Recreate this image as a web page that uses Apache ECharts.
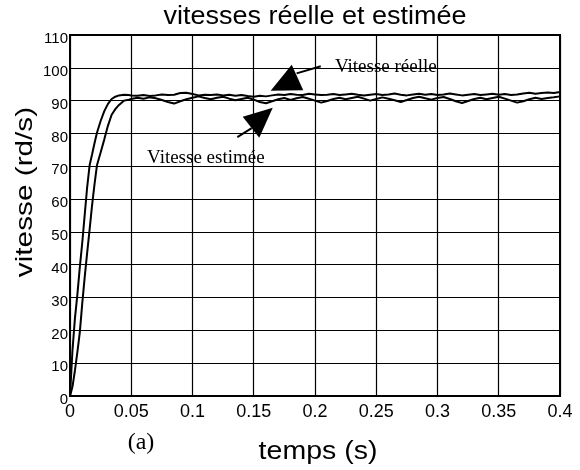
<!DOCTYPE html>
<html>
<head>
<meta charset="utf-8">
<script src="https://cdn.jsdelivr.net/npm/echarts@6/dist/echarts.min.js"></script>
<style>
html, body { margin: 0; padding: 0; background: #fff; }
#main { width: 580px; height: 470px; }
</style>
</head>
<body>
<div id="main"></div>
<script>
var myChart = echarts.init(document.getElementById('main'));

// temps (s)
var temps = [
    0, 0.002, 0.004, 0.006, 0.008, 0.010, 0.012, 0.014, 0.016, 0.018,
    0.020, 0.022, 0.025, 0.028, 0.031, 0.034, 0.037, 0.040, 0.044, 0.048,
    0.050, 0.055, 0.060, 0.065, 0.070, 0.075, 0.080, 0.085, 0.090, 0.095,
    0.100, 0.105, 0.110, 0.115, 0.120, 0.125, 0.130, 0.135, 0.140, 0.145,
    0.150, 0.155, 0.160, 0.165, 0.170, 0.175, 0.180, 0.185, 0.190, 0.195,
    0.200, 0.205, 0.210, 0.215, 0.220, 0.225, 0.230, 0.235, 0.240, 0.245,
    0.250, 0.255, 0.260, 0.265, 0.270, 0.275, 0.280, 0.285, 0.290, 0.295,
    0.300, 0.305, 0.310, 0.315, 0.320, 0.325, 0.330, 0.335, 0.340, 0.345,
    0.350, 0.355, 0.360, 0.365, 0.370, 0.375, 0.380, 0.385, 0.390, 0.395,
    0.400
];

// vitesse réelle (rd/s)
var vitesseReelle = [
    0, 13.8, 23.6, 30.8, 39.2, 46.7, 55.2, 63.6, 70.3, 73.6,
    77.0, 80.2, 83.8, 86.8, 89.0, 90.5, 91.2, 91.6, 91.8, 91.7,
    91.6, 91.5, 91.7, 91.4, 91.6, 91.9, 91.7, 91.8, 92.3, 92.4,
    92.0, 91.6, 91.8, 91.7, 91.9, 91.6, 91.8, 91.5, 91.7, 91.4,
    91.2, 91.5, 91.3, 91.6, 91.9, 91.7, 92.0, 91.8, 91.7, 92.1,
    91.9, 91.7, 91.8, 92.0, 91.7, 91.9, 92.1, 91.8, 91.6, 91.8,
    92.0, 91.7, 91.9, 92.2, 91.8, 91.6, 91.9, 92.1, 91.8, 92.0,
    91.7, 91.9, 92.2, 91.9, 91.6, 91.8, 92.0, 91.7, 91.9, 92.1,
    91.8, 92.0, 91.7, 91.9, 92.2, 92.4, 92.1, 92.3, 92.5, 92.3,
    92.6
];

// vitesse estimée (rd/s)
var vitesseEstimee = [
    0, 2.8, 7.7, 13.3, 19.4, 28.2, 36.2, 43.6, 50.7, 58.1,
    64.5, 70.3, 74.2, 78.2, 82.4, 85.7, 87.4, 88.7, 90.0, 90.3,
    90.5, 90.9, 90.6, 91.0, 90.7, 90.2, 89.6, 89.1, 89.8, 90.4,
    90.9, 91.3, 90.8, 90.4, 90.9, 91.2, 90.6, 90.1, 90.5, 90.9,
    90.3, 89.6, 89.2, 89.8, 90.4, 90.8, 90.2, 90.7, 91.1, 90.6,
    90.0, 89.4, 89.9, 90.5, 90.9, 90.4, 90.8, 91.2, 90.6, 90.0,
    90.5, 91.0, 90.6, 90.1, 89.6, 90.2, 90.8, 91.2, 90.7, 90.3,
    90.8, 91.1, 90.5, 89.8, 89.3, 89.9, 90.5, 90.9, 90.4, 90.8,
    91.2, 90.6, 90.0, 89.4, 89.8, 90.4, 90.9, 90.5, 90.8, 91.0,
    91.3
];

// annotations (coordonnées en données : [temps, vitesse])
var flecheReelle = [[0.181, 100.9], [0.1638, 93.0], [0.1904, 93.2]];
var traitReelle = [[0.185, 98.3], [0.2047, 100.5]];
var flecheEstimee = [[0.1655, 87.8], [0.141, 85.1], [0.1545, 78.7]];
var traitEstimee = [[0.1483, 81.6], [0.1366, 78.9]];
var etiquettes = [
    ['Vitesse réelle', 0.2163, 100.2],
    ['Vitesse estimée', 0.0629, 72.5]
];

function paires(xs, ys) {
    var out = [];
    for (var i = 0; i < xs.length; i++) out.push([xs[i], ys[i]]);
    return out;
}

var sans = '"Liberation Sans", Arial, sans-serif';
var serif = '"Liberation Serif", "Times New Roman", serif';

option = {
    animation: false,
    backgroundColor: '#fff',
    grid: {
        left: 70,
        right: 20,
        top: 35,
        bottom: 74,
        show: true,
        borderColor: '#000',
        borderWidth: 2
    },
    xAxis: {
        type: 'value',
        min: 0,
        max: 0.4,
        interval: 0.05,
        axisLine: { show: true, lineStyle: { color: '#000', width: 2 } },
        axisTick: { show: false },
        splitLine: { show: true, lineStyle: { color: '#000', width: 1.2 } },
        axisLabel: {
            color: '#000',
            fontSize: 18,
            fontFamily: sans,
            margin: 7
        }
    },
    yAxis: {
        type: 'value',
        min: 0,
        max: 110,
        interval: 10,
        axisLine: { show: true, lineStyle: { color: '#000', width: 2 } },
        axisTick: { show: false },
        splitLine: { show: true, lineStyle: { color: '#000', width: 1.2 } },
        axisLabel: {
            color: '#000',
            fontSize: 15,
            fontFamily: sans,
            margin: 2,
            verticalAlign: 'top',
            lineHeight: 8
        }
    },
    series: [
        {
            name: 'Vitesse réelle',
            type: 'line',
            data: paires(temps, vitesseReelle),
            showSymbol: false,
            lineStyle: { color: '#000', width: 2 }
        },
        {
            name: 'Vitesse estimée',
            type: 'line',
            data: paires(temps, vitesseEstimee),
            showSymbol: false,
            lineStyle: { color: '#000', width: 2 }
        }
    ]
};

myChart.setOption(option);

function px(p) {
    return myChart.convertToPixel({ gridIndex: 0 }, p);
}

var graphics = [
    {
        type: 'text', x: 315, y: 17, scaleX: 1.08,
        style: { text: 'vitesses réelle et estimée', font: '25px ' + sans, fill: '#000',
                 align: 'center', verticalAlign: 'middle', textAlign: 'center', textVerticalAlign: 'middle' }
    },
    {
        type: 'text', x: 318, y: 452, scaleX: 1.14,
        style: { text: 'temps (s)', font: '25px ' + sans, fill: '#000',
                 align: 'center', verticalAlign: 'middle', textAlign: 'center', textVerticalAlign: 'middle' }
    },
    {
        type: 'text', x: 25, y: 192, rotation: Math.PI / 2, scaleX: 1.24,
        style: { text: 'vitesse (rd/s)', font: '24px ' + sans, fill: '#000',
                 align: 'center', verticalAlign: 'middle', textAlign: 'center', textVerticalAlign: 'middle' }
    },
    {
        type: 'text', x: 141, y: 443,
        style: { text: '(a)', font: '24px ' + serif, fill: '#000',
                 align: 'center', verticalAlign: 'middle', textAlign: 'center', textVerticalAlign: 'middle' }
    },
    { type: 'polygon', shape: { points: flecheReelle.map(px) }, style: { fill: '#000' } },
    { type: 'polyline', shape: { points: traitReelle.map(px) }, style: { stroke: '#000', lineWidth: 2, fill: null } },
    { type: 'polygon', shape: { points: flecheEstimee.map(px) }, style: { fill: '#000' } },
    { type: 'polyline', shape: { points: traitEstimee.map(px) }, style: { stroke: '#000', lineWidth: 2, fill: null } }
];

etiquettes.forEach(function (e) {
    var p = px([e[1], e[2]]);
    graphics.push({
        type: 'text', x: p[0], y: p[1],
        style: { text: e[0], font: '19px ' + serif, fill: '#000',
                 align: 'left', verticalAlign: 'middle', textAlign: 'left', textVerticalAlign: 'middle' }
    });
});

myChart.setOption({ graphic: graphics });
</script>
</body>
</html>
